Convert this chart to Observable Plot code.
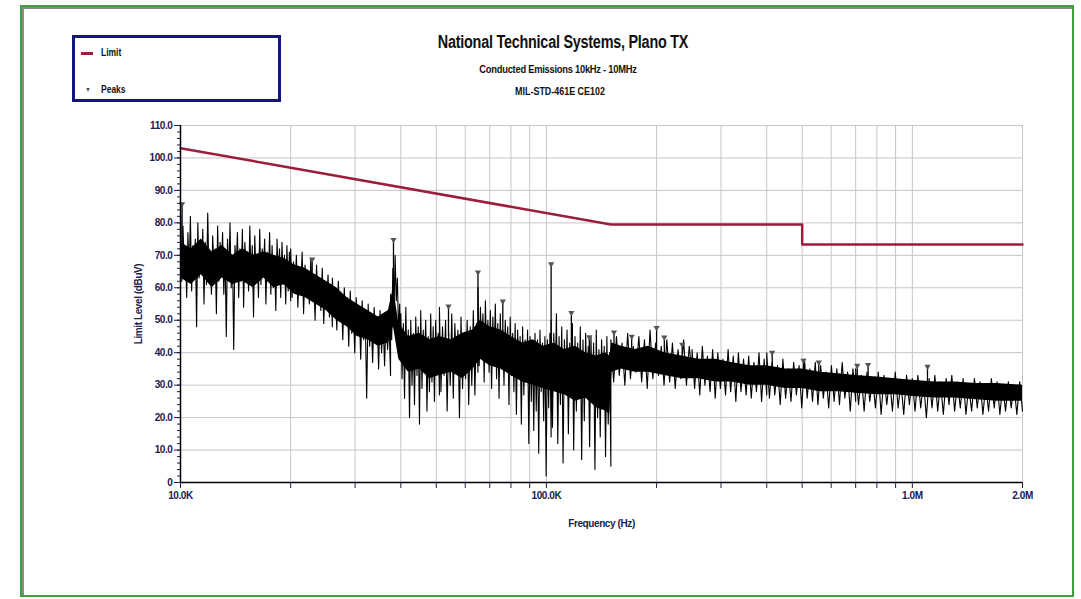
<!DOCTYPE html>
<html><head><meta charset="utf-8">
<script src="https://cdn.jsdelivr.net/npm/d3@7"></script>
<script src="https://cdn.jsdelivr.net/npm/@observablehq/plot@0.6"></script>
<style>
body{margin:0;background:#fff;}
#page{position:relative;width:1081px;height:599px;overflow:hidden;font-family:"Liberation Sans",Arial,sans-serif;font-weight:bold;color:#111;}
#frame{position:absolute;left:20px;top:5px;width:1050px;height:588px;border:2px solid #3f9f3f;box-shadow:inset 2px 2px 0 #8a8a8a;}
#chart{position:absolute;left:0;top:0;}
.t{position:absolute;text-align:center;white-space:nowrap;transform-origin:center;}
#legend{position:absolute;left:72px;top:35px;width:203px;height:61px;border:3px solid #12128c;background:#fff;}
.lg{position:absolute;font-size:10px;transform:scaleX(0.85);transform-origin:left;}
</style></head>
<body><div id="page">
<div id="frame"></div>
<div id="chart"></div>
<div class="t" style="left:363px;width:400px;top:32px;font-size:18px;transform:scaleX(0.8);letter-spacing:-0.3px;">National Technical Systems, Plano TX</div>
<div class="t" style="left:408px;width:300px;top:63px;font-size:11px;transform:scaleX(0.85);letter-spacing:-0.3px;">Conducted Emissions 10kHz - 10MHz</div>
<div class="t" style="left:410px;width:300px;top:85px;font-size:10.5px;transform:scaleX(0.85);">MIL-STD-461E CE102</div>
<div id="legend">
  <div style="position:absolute;left:6px;top:14px;width:12px;height:3px;background:#9c1c3c;"></div>
  <div class="lg" style="left:26px;top:9px;">Limit</div>
  <div class="lg" style="left:10px;top:48px;font-size:7px;color:#555;">▼</div>
  <div class="lg" style="left:26px;top:46px;">Peaks</div>
</div>
</div>
<script>
// ---- data (frequencies in kHz, levels in dBuV) ----
const limitF = [10, 150, 500, 500, 2000];
const limitV = [103, 79.5, 79.5, 73.3, 73.3];

const peakF = [10.1, 22.9, 38.2, 54, 65, 76, 103, 117, 131, 153, 171, 200, 210, 235, 414, 504, 555, 707, 757, 1100];
const peakV = [85.5, 68.5, 74.5, 54, 64.5, 55.5, 67, 52, 44.5, 46, 44.7, 47.4, 44.4, 42.2, 39.7, 37.3, 36.7, 35.7, 36, 35.4];
const peakBase = [72, 58, 50, 45, 42, 44, 40, 38, 36, 40, 40, 40, 39, 37, 34, 33, 33, 31, 31, 30];

// solid core band of the emission trace
const coreF  = [10, 10.7, 11.4, 12.2, 13, 13.9, 14.8, 15.8, 16.9, 18, 19.2, 20.5, 21.9, 23.4, 25, 26.7, 28.5, 30.4, 32.5, 34.7, 37, 38.2, 39.5, 42, 45, 48, 51, 55, 59, 63, 66, 70, 75, 80, 86, 92, 98, 105, 112, 120, 128, 137, 145, 149, 151, 160, 175, 190, 210, 235, 260, 290, 320, 360, 400, 450, 500, 560, 630, 700, 800, 900, 1000, 1150, 1300, 1500, 1700, 2000];
const coreLo = [63, 61, 64, 60, 63, 61, 62, 60, 63, 60, 61, 58, 57, 55, 53, 50, 48, 45, 44, 42, 43, 48, 38, 34, 35, 32, 33, 34, 32, 35, 38, 36, 35, 33, 31, 30, 29, 28, 27, 25, 26, 23, 22, 21, 34, 35, 34, 34, 33, 32, 32, 31, 31, 30, 30, 29, 29, 28, 28, 27.5, 27, 27, 26.5, 26, 26, 25.5, 25, 25];
const coreHi = [74, 72, 75, 71, 73, 70, 72, 70, 71, 70, 69, 67, 66, 64, 62, 60, 57, 55, 53, 51, 53, 60, 49, 45, 46, 44, 45, 44, 46, 47, 50, 48, 47, 45, 43, 44, 42, 43, 41, 42, 40, 39, 40, 39, 43, 42, 41, 42, 40, 39, 38, 38, 37, 36, 36, 35, 35, 34, 33.5, 33, 32.5, 32, 31.5, 31, 31, 30.5, 30.5, 30];

// sweep segments of the trace: start kHz, end kHz, readings
const segStart = [10, 20, 26, 37.5, 40, 51, 65, 103, 150, 250, 400, 700];
const segEnd   = [20, 26, 37.5, 40, 51, 65, 103, 150, 250, 400, 700, 2000];
const seg1 = [86,62,79,66,71,57,77,64,82,59,73,68,75,48,80,63,70,66,78,55,74,61,83,64,69,58,76,67,72,52,79,62,74,65,77,58,71,45,75,63,80,60,70,41,73,66,77,57,72,62,78,54,74,66,71,59,79,63,73,51,76,64,70,57,78,61,72,65,75,55,71,62,77,58,73,60,69,53,75,63,72,57,74,61,70,55,73,59,71,56];
const seg2 = [72,57,68,61,70,54,66,59,71,52,67,60,65,55,69,58,64,50,67,56,63,53,66,49,62,55,64,51,61,48];
const seg3 = [63,52,60,47,62,50,58,44,60,49,57,42,59,46,55,40,57,48,54,38,56,44,53,26,55,42,52,37,54,45,51,35,53,40,50,36,52,41,49,33];
const seg4 = [58,44,66,52,70,56,63,46,55,38];
const seg5 = [52,32,49,26,54,35,47,20,50,30,46,24,51,33,48,18,53,29,47,36,50,22,45,28,52,31,48,25,50,34,46,27];
const seg6 = [54,28,48,33,50,22,46,30,52,26,49,35,47,20,51,29,45,32,50,24,48,30,53,27,49,34];
const seg7 = [60,36,54,40,52,31,56,38,50,34,53,29,51,37,55,32,49,26,52,35,47,30,50,38,48,24,51,33,46,28,49,21,47,34,45,18,48,27,44,31,47,12,45,25,43,16,46,22,44,9,47,28,43,19,45,2,44,23,46,14];
const seg8 = [50,17,46,30,52,12,45,24,48,6,44,28,47,15,43,33,49,10,45,22,43,27,48,7,44,19,46,30,42,11,45,25,43,4,47,20,41,14,44,29,42,8,45,18,40,5];
const seg9 = [44,31,45,33,43,30,46,32,42,34,45,31,44,29,47,32,43,33,42,30,44,31,43,29,41,32,44,30,42,33];
const seg10 = [41,29,40,27,42,30,39,28,41,26,40,29,38,27,41,28,39,25,40,28,38,27,39,26,37,28,40,25,38,27];
const seg11 = [40,26,37,27,36,24,38,26,35,25,37,27,36,23,38,26,35,25,37,24,36,26,34,23,36,25,35,24,37,26,34,22,35,25];
const seg12 = [35,24,33,22,34,25,32,23,34,21,33,24,32,22,34,23,31,21,33,24,32,22,33,23,31,20,32,23,33,22,31,21,32,24,33,22,31,23,32,21,30,22,32,23,31,21,30,22,32,23,31,21,30,22,31,23,30,21,31,22];
const segVals = [seg1, seg2, seg3, seg4, seg5, seg6, seg7, seg8, seg9, seg10, seg11, seg12];

const gridKHz = [20,30,40,50,60,70,80,90,100,200,300,400,500,600,700,800,900,1000,2000];
const xTickKHz = [10,20,30,40,50,60,70,80,90,100,200,300,400,500,600,700,800,900,1000,2000];
const xTickLabels = {10:"10.0K", 100:"100.0K", 1000:"1.0M", 2000:"2.0M"};
const yTicks = [0,10,20,30,40,50,60,70,80,90,100,110];

// ---- tables ----
const limitData = limitF.map((f,i)=>({f:f*1000, v:limitV[i]}));
const peakData = peakF.map((f,i)=>({f:f*1000, v:peakV[i], base:peakBase[i]}));
const coreData = coreF.map((f,i)=>({f:f*1000, lo:coreLo[i], hi:coreHi[i]}));
const traceData = [];
segVals.forEach((vals,s)=>{
  const a = segStart[s], b = segEnd[s], n = vals.length;
  vals.forEach((v,i)=>traceData.push({f: a*Math.pow(b/a, i/(n-1))*1000, v}));
});

const font = '"Liberation Sans",Arial,sans-serif';
const chart = Plot.plot({
  width:1081, height:560,
  marginLeft:180, marginRight:59, marginTop:125, marginBottom:78,
  style:{fontFamily:font, fontSize:"10px", fontWeight:"bold", color:"#1a2050", background:"transparent", letterSpacing:"-0.4px"},
  x:{type:"log", domain:[1e4, 2e6]},
  y:{domain:[0,110]},
  marks:[
    Plot.ruleX(gridKHz.map(d=>d*1000), {stroke:"#c6c6c6", strokeWidth:1}),
    Plot.ruleY(yTicks.slice(1), {stroke:"#c6c6c6", strokeWidth:1}),
    Plot.areaY(coreData, {x:"f", y1:"lo", y2:"hi", fill:"#000"}),
    Plot.line(traceData, {x:"f", y:"v", stroke:"#000", strokeWidth:1.1}),
    Plot.ruleX(peakData, {x:"f", y1:"base", y2:"v", stroke:"#000", strokeWidth:1.3}),
    Plot.line(limitData, {x:"f", y:"v", stroke:"#9c1c3c", strokeWidth:2.5}),
    Plot.dot(peakData, {x:"f", y:"v", symbol:"triangle", rotate:180, r:2.3, fill:"#555", dy:-1}),
    Plot.ruleX([1e4], {stroke:"#000", strokeWidth:1.5}),
    Plot.ruleY([0], {stroke:"#000", strokeWidth:1.5}),
    Plot.axisX({ticks: xTickKHz.map(d=>d*1000), tickSize:6, tickPadding:3,
      tickFormat: d => xTickLabels[Math.round(d/1000)] || "",
      label:"Frequency (Hz)", labelAnchor:"center", labelOffset:44, labelArrow:"none"}),
    Plot.axisY({ticks: yTicks, tickSize:6, tickPadding:2,
      tickFormat: d => d === 0 ? "0" : d.toFixed(1),
      label:"Limit Level (dBuV)", labelAnchor:"center", labelOffset:46, labelArrow:"none"}),
    Plot.axisY({ticks: d3.range(0,111,2), tickSize:3, tickFormat: () => "", label:null})
  ]
});
document.getElementById("chart").appendChild(chart);
</script>
</body></html>
